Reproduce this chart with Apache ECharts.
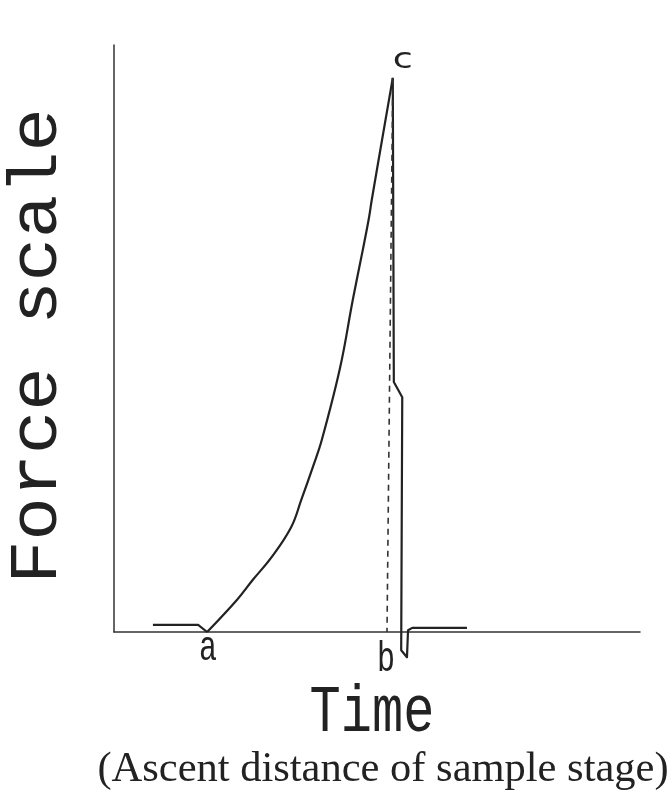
<!DOCTYPE html>
<html>
<head>
<meta charset="utf-8">
<script src="https://cdn.jsdelivr.net/npm/echarts@6/dist/echarts.min.js"></script>
<style>html,body{margin:0;padding:0;background:#fff}#chart{width:672px;height:796px}</style>
</head>
<body>
<div id="chart"></div>
<script>
// Baseline before loading (left flat part down to point a)
const baseTime  = [7.4, 16.0, 17.7];
const baseForce = [1.2, 1.2, 0];
// Loading curve from a up to peak c
const riseTime  = [17.7, 23.4, 26.4, 30.0, 33.7, 35.6, 37.8, 39.5, 43.0, 45.4, 47.3, 48.5, 49.0, 53.0];
const riseForce = [0, 5.5, 8.9, 12.8, 17.9, 22.5, 28.1, 32.7, 45.1, 56.6, 65.1, 70.7, 73.6, 94.4];
// Break: drop from c back to baseline
const fallTime  = [53.0, 53.2, 54.8, 54.6, 55.7, 55.9, 56.7, 67.1];
const fallForce = [94.4, 42.6, 40.0, -3.1, -4.3, 0.3, 0.7, 0.7];
// Dashed guide from c down to b
const guideTime  = [53.0, 51.9];
const guideForce = [94.4, 0];
// Point labels
const pointNames = ['a', 'b', 'c'];
const pointTime  = [17.7, 51.9, 53.0];
const pointForce = [0, 0, 94.4];

const zip = (xs, ys) => xs.map((x, i) => [x, ys[i]]);
const chart = echarts.init(document.getElementById('chart'), null, {renderer: 'canvas'});
const ink = '#222222';
const mono = '"Liberation Mono", "DejaVu Sans Mono", monospace';

chart.setOption({
  backgroundColor: '#ffffff',
  animation: false,
  grid: {left: 114, right: 32, top: 45, bottom: 164},
  xAxis: {
    type: 'value', min: 0, max: 100,
    axisLine: {show: true, onZero: false, lineStyle: {color: '#333', width: 1.5}},
    axisTick: {show: false}, axisLabel: {show: false}, splitLine: {show: false}
  },
  yAxis: {
    type: 'value', min: 0, max: 100,
    axisLine: {show: true, onZero: false, lineStyle: {color: '#333', width: 1.5}},
    axisTick: {show: false}, axisLabel: {show: false}, splitLine: {show: false}
  },
  series: [
    {type: 'line', data: zip(baseTime, baseForce), showSymbol: false, clip: false,
     lineStyle: {color: ink, width: 2.2}},
    {type: 'line', data: zip(riseTime, riseForce), showSymbol: false, clip: false, smooth: 0.4,
     lineStyle: {color: ink, width: 2.2}},
    {type: 'line', data: zip(fallTime, fallForce), showSymbol: false, clip: false,
     lineStyle: {color: ink, width: 2.2, join: 'round'}},
    {type: 'line', data: zip(guideTime, guideForce), showSymbol: false, clip: false,
     lineStyle: {color: '#333', width: 1.6, type: [6, 5]}}
  ]
});

// place point labels relative to their data anchors
const offsets = {a: [1, 17], b: [-1, 28], c: [10, -17]};
const labelEls = pointNames.map((n, i) => {
  const p = chart.convertToPixel({gridIndex: 0}, [pointTime[i], pointForce[i]]);
  const o = offsets[n];
  if (n === 'c') {
    return {type: 'text', x: p[0] + o[0], y: p[1] + o[1], scaleX: 1.3, scaleY: 1.0,
      style: {text: n, font: '28px "DejaVu Sans", sans-serif', fill: ink,
        textAlign: 'center', textVerticalAlign: 'middle', align: 'center', verticalAlign: 'middle'}};
  }
  return {type: 'text', x: p[0] + o[0], y: p[1] + o[1], scaleX: 1.0, scaleY: 1.4,
    style: {text: n, font: '30px ' + mono, fill: ink,
      textAlign: 'center', textVerticalAlign: 'middle', align: 'center', verticalAlign: 'middle'}};
});

chart.setOption({
  graphic: labelEls.concat([
    {type: 'text', x: 372, y: 713, scaleX: 1, scaleY: 1.28,
     style: {text: 'Time', font: '52px ' + mono, fill: ink,
       textAlign: 'center', textVerticalAlign: 'middle', align: 'center', verticalAlign: 'middle'}},
    {type: 'text', x: 38, y: 346, rotation: Math.PI / 2, scaleX: 1, scaleY: 0.95,
     style: {text: 'Force scale', font: '72px ' + mono, fill: ink,
       textAlign: 'center', textVerticalAlign: 'middle', align: 'center', verticalAlign: 'middle'}},
    {type: 'text', x: 383, y: 770,
     style: {text: '(Ascent distance of sample stage)', font: '42.5px "Liberation Serif", "Times New Roman", serif', fill: ink,
       textAlign: 'center', textVerticalAlign: 'middle', align: 'center', verticalAlign: 'middle'}}
  ])
});
</script>
</body>
</html>
